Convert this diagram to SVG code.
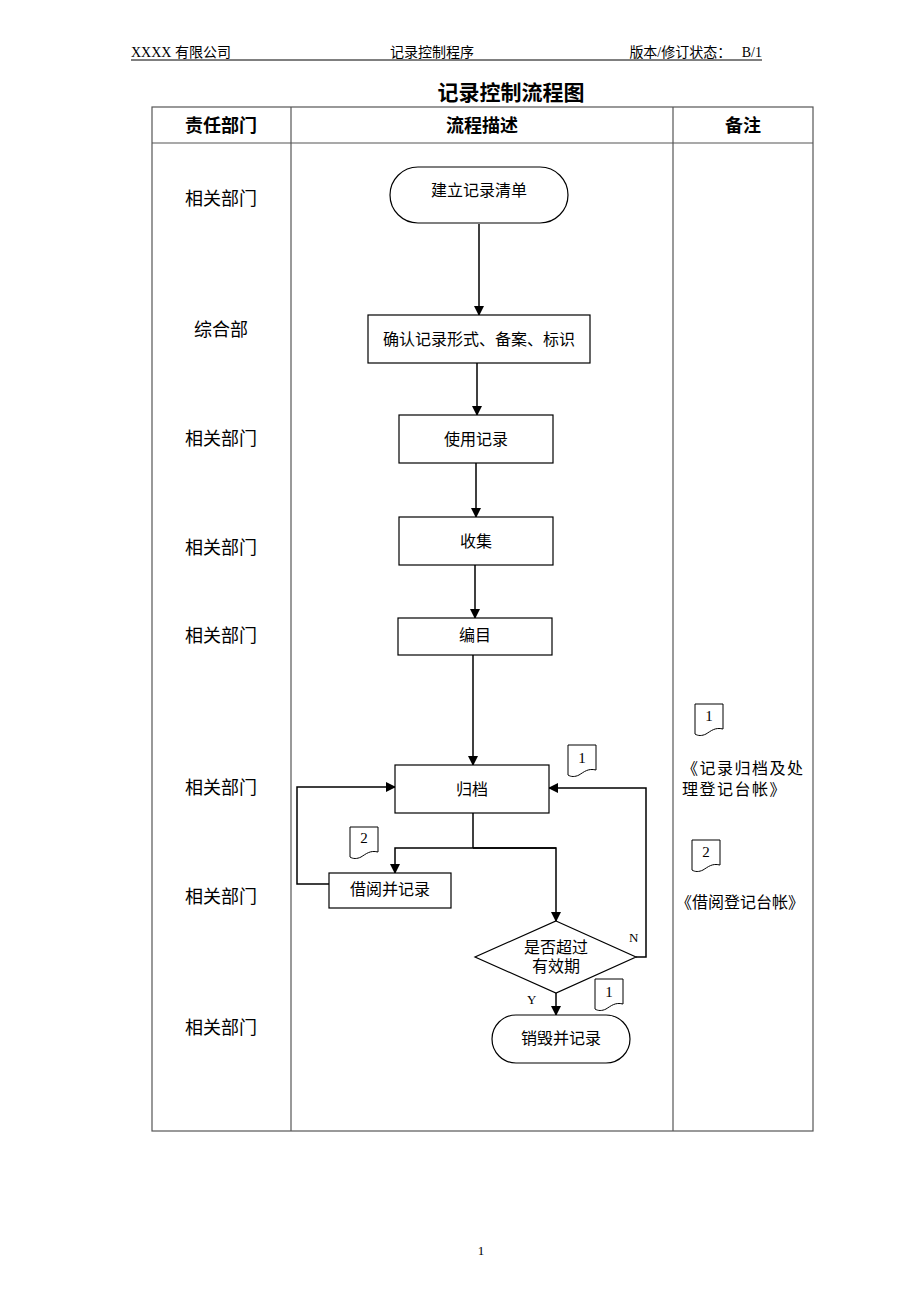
<svg xmlns="http://www.w3.org/2000/svg" width="920" height="1302" viewBox="0 0 920 1302">
<style>
.t{font-family:"Liberation Serif","Noto Sans CJK SC",serif;fill:#000}
.b{font-size:16px;text-anchor:middle}
.lab{font-size:18px;text-anchor:middle}
.hd{font-size:18px;font-weight:bold;text-anchor:middle}
.box{fill:#fff;stroke:#000;stroke-width:1.2}
.ln{fill:none;stroke:#000;stroke-width:1.5}
.grid{fill:none;stroke:#555;stroke-width:1.2}
.doc{fill:#fff;stroke:#000;stroke-width:1}
</style>
<defs>
<marker id="ar" markerWidth="10" markerHeight="10" refX="9" refY="5" orient="auto" markerUnits="userSpaceOnUse">
<path d="M0,0 L10,5 L0,10 z" fill="#000"/>
</marker>
<path id="doc" d="M0,0 H28 V25 C20,23 16,27 11,30 C7,32 3,32 0,30 Z"/>
</defs>
<rect width="920" height="1302" fill="#fff"/>
<g id="header">
<text class="t" x="131" y="57" font-size="14">XXXX 有限公司</text>
<text class="t" x="432" y="57" font-size="14" text-anchor="middle">记录控制程序</text>
<text class="t" x="762" y="57" font-size="14" text-anchor="end" xml:space="preserve">版本/修订状态：   B/1</text>
<line x1="131" y1="60" x2="762" y2="60" stroke="#000" stroke-width="1"/>
<text class="t" x="511" y="100" font-size="21" font-weight="bold" text-anchor="middle">记录控制流程图</text>
</g>
<g id="table">
<rect class="grid" x="152" y="107" width="661" height="1024"/>
<line class="grid" x1="291" y1="107" x2="291" y2="1131"/>
<line class="grid" x1="673" y1="107" x2="673" y2="1131"/>
<line class="grid" x1="152" y1="143" x2="813" y2="143"/>
<text class="t hd" x="221" y="132">责任部门</text>
<text class="t hd" x="482" y="132">流程描述</text>
<text class="t hd" x="743" y="132">备注</text>
<text class="t lab" x="221" y="205">相关部门</text>
<text class="t lab" x="221" y="336">综合部</text>
<text class="t lab" x="221" y="445">相关部门</text>
<text class="t lab" x="221" y="554">相关部门</text>
<text class="t lab" x="221" y="642">相关部门</text>
<text class="t lab" x="221" y="794">相关部门</text>
<text class="t lab" x="221" y="903">相关部门</text>
<text class="t lab" x="221" y="1034">相关部门</text>
</g>
<g id="connectors">
<line class="ln" x1="479" y1="224" x2="479" y2="315" marker-end="url(#ar)"/>
<line class="ln" x1="477" y1="363" x2="477" y2="415" marker-end="url(#ar)"/>
<line class="ln" x1="476" y1="463" x2="476" y2="517" marker-end="url(#ar)"/>
<line class="ln" x1="475" y1="565" x2="475" y2="618" marker-end="url(#ar)"/>
<line class="ln" x1="473" y1="655" x2="473" y2="765" marker-end="url(#ar)"/>
<polyline class="ln" points="473,813 473,848"/>
<polyline class="ln" points="556,848 395,848 395,873" marker-end="url(#ar)"/>
<polyline class="ln" points="473,848 556,848 556,921" marker-end="url(#ar)"/>
<line class="ln" x1="556" y1="993" x2="556" y2="1015" marker-end="url(#ar)"/>
<polyline class="ln" points="636,957 646,957 646,788 549,788" marker-end="url(#ar)"/>
<polyline class="ln" points="329,884 297,884 297,787 395,787" marker-end="url(#ar)"/>
</g>
<g id="n1"><rect class="box" x="390" y="167" width="178" height="56" rx="28"/><text class="t b" x="479" y="196">建立记录清单</text></g>
<g id="n2"><rect class="box" x="368" y="315" width="222" height="48"/><text class="t b" x="479" y="345">确认记录形式、备案、标识</text></g>
<g id="n3"><rect class="box" x="399" y="415" width="154" height="48"/><text class="t b" x="476" y="445">使用记录</text></g>
<g id="n4"><rect class="box" x="399" y="517" width="154" height="48"/><text class="t b" x="476" y="547">收集</text></g>
<g id="n5"><rect class="box" x="398" y="618" width="154" height="37"/><text class="t b" x="475" y="641">编目</text></g>
<g id="n6"><rect class="box" x="395" y="765" width="154" height="48"/><text class="t b" x="472" y="795">归档</text></g>
<g id="n7"><rect class="box" x="329" y="873" width="122" height="35"/><text class="t b" x="390" y="895">借阅并记录</text></g>
<g id="n8"><polygon class="box" points="556,921 636,957 556,993 475,957"/><text class="t b" x="556" y="953">是否超过</text><text class="t b" x="556" y="972">有效期</text>
<text class="t" x="629" y="942" font-size="13">N</text><text class="t" x="527" y="1004" font-size="13">Y</text></g>
<g id="n9"><rect class="box" x="492" y="1015" width="138" height="48" rx="24"/><text class="t b" x="561" y="1044">销毁并记录</text></g>
<g id="doc1"><use href="#doc" class="doc" x="568" y="745"/><text class="t" x="582" y="763" font-size="15" text-anchor="middle">1</text></g>
<g id="doc2"><use href="#doc" class="doc" x="350" y="827"/><text class="t" x="364" y="843" font-size="15" text-anchor="middle">2</text></g>
<g id="doc3"><use href="#doc" class="doc" x="595" y="979"/><text class="t" x="609" y="997" font-size="15" text-anchor="middle">1</text></g>
<g id="doc4"><use href="#doc" class="doc" x="695" y="704"/><text class="t" x="709" y="721" font-size="15" text-anchor="middle">1</text></g>
<g id="doc5"><use href="#doc" class="doc" x="692" y="840"/><text class="t" x="706" y="857" font-size="15" text-anchor="middle">2</text></g>
<g id="notes">
<text class="t" x="682" y="774" font-size="16" letter-spacing="1.5">《记录归档及处</text>
<text class="t" x="682" y="795" font-size="16" letter-spacing="1.5">理登记台帐》</text>
<text class="t" x="676" y="908" font-size="16">《借阅登记台帐》</text>
</g>
<text class="t" x="481" y="1255" font-size="13" text-anchor="middle">1</text>
</svg>
